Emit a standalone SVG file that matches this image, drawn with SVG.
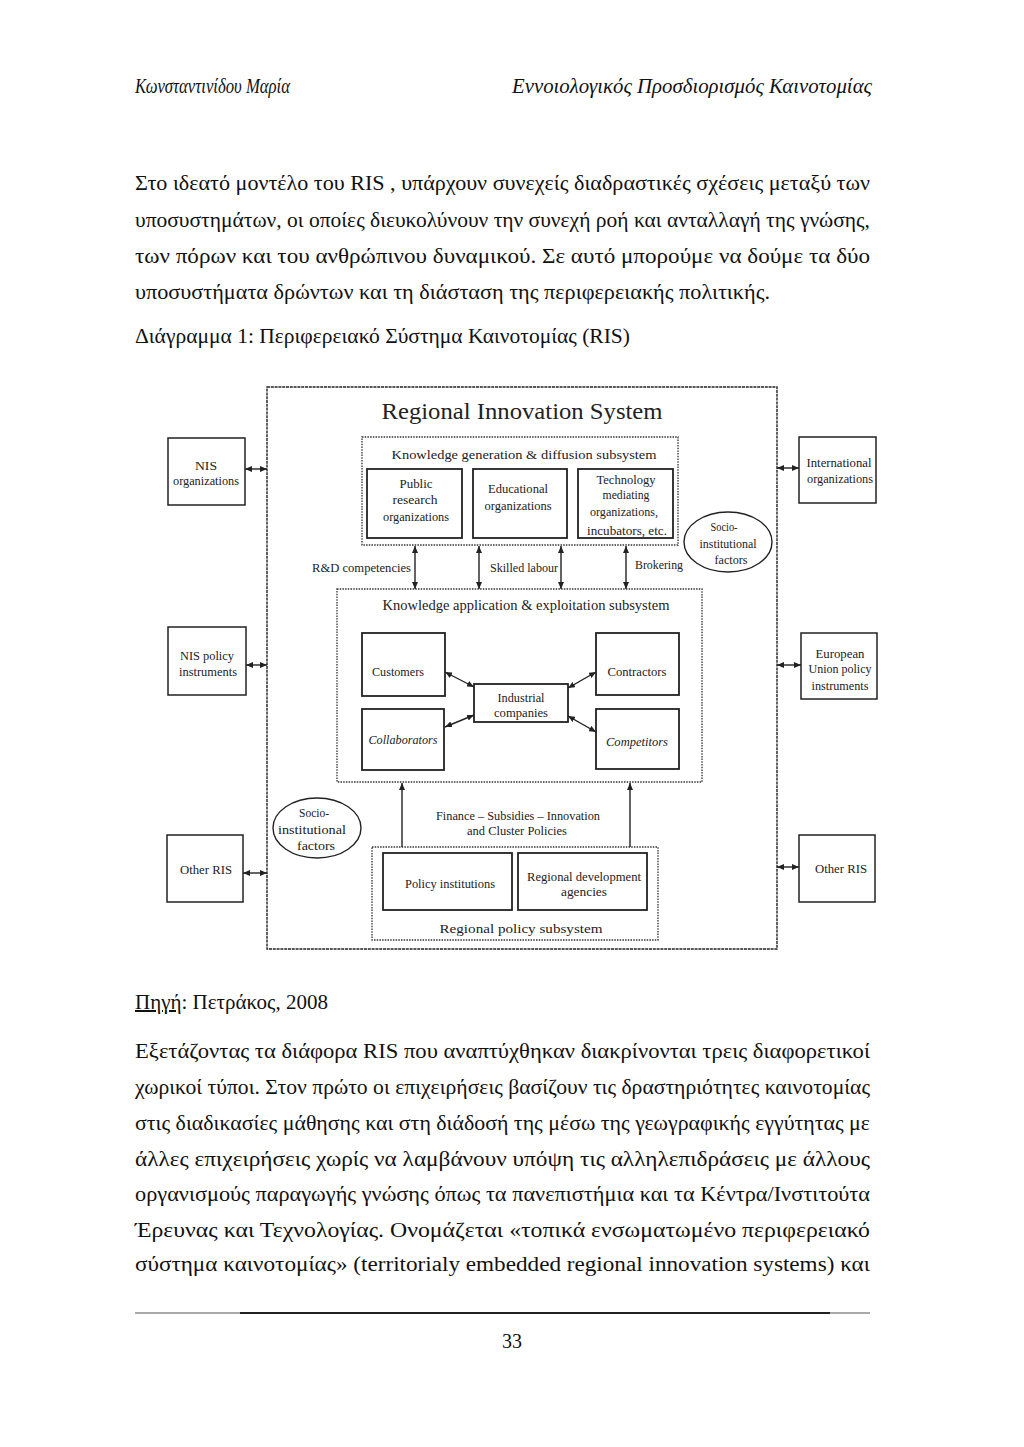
<svg xmlns="http://www.w3.org/2000/svg" width="1024" height="1447" viewBox="0 0 1024 1447">
<style>
.pg{font-family:"Liberation Serif","Times New Roman",serif;font-size:20px;fill:#111}
.hd{font-family:"Liberation Serif","Times New Roman",serif;font-size:20px;font-style:italic;fill:#111}
.t{font-family:"Liberation Serif","Times New Roman",serif;font-size:11.5px;fill:#222;text-anchor:middle}
.ti{font-style:italic}
.sub{font-family:"Liberation Serif","Times New Roman",serif;fill:#222;text-anchor:middle}
.dot{fill:none;stroke:#333;stroke-width:1.3;stroke-dasharray:1.5 1.2}
.box{fill:none;stroke:#222;stroke-width:1.8}
.ext{fill:none;stroke:#222;stroke-width:1.5}
.ell{fill:none;stroke:#222;stroke-width:1.4}
.c{stroke:#222;stroke-width:1.4;fill:none}
</style>
<defs>
<marker id="ah" viewBox="0 0 7 6" refX="7" refY="3" markerWidth="7" markerHeight="6" markerUnits="userSpaceOnUse" orient="auto-start-reverse">
<path d="M0,0 L7,3 L0,6 z" fill="#222"/>
</marker>
</defs>
<rect width="1024" height="1447" fill="#fff"/>

<g id="page-text">
<text class="hd" x="135" y="93" textLength="155" lengthAdjust="spacingAndGlyphs">Κωνσταντινίδου Μαρία</text>
<text class="hd" x="872" y="93" text-anchor="end" textLength="360" lengthAdjust="spacingAndGlyphs">Εννοιολογικός Προσδιορισμός Καινοτομίας</text>
<text class="pg" x="135" y="190" textLength="735" lengthAdjust="spacingAndGlyphs">Στο ιδεατό μοντέλο του RIS , υπάρχουν συνεχείς διαδραστικές σχέσεις μεταξύ των</text>
<text class="pg" x="135" y="227" textLength="735" lengthAdjust="spacingAndGlyphs">υποσυστημάτων, οι οποίες διευκολύνουν την συνεχή ροή και ανταλλαγή της γνώσης,</text>
<text class="pg" x="135" y="263" textLength="735" lengthAdjust="spacingAndGlyphs">των πόρων και του ανθρώπινου δυναμικού. Σε αυτό μπορούμε να δούμε τα δύο</text>
<text class="pg" x="135" y="299" textLength="635" lengthAdjust="spacingAndGlyphs">υποσυστήματα δρώντων και τη διάσταση της περιφερειακής πολιτικής.</text>
<text class="pg" x="135" y="343" textLength="495" lengthAdjust="spacingAndGlyphs">Διάγραμμα 1: Περιφερειακό Σύστημα Καινοτομίας (RIS)</text>
<text class="pg" x="135" y="1009" textLength="193" lengthAdjust="spacingAndGlyphs"><tspan text-decoration="underline">Πηγή</tspan>: Πετράκος, 2008</text>
<text class="pg" x="135" y="1058" textLength="735" lengthAdjust="spacingAndGlyphs">Εξετάζοντας τα διάφορα RIS που αναπτύχθηκαν διακρίνονται τρεις διαφορετικοί</text>
<text class="pg" x="135" y="1094" textLength="735" lengthAdjust="spacingAndGlyphs">χωρικοί τύποι. Στον πρώτο οι επιχειρήσεις βασίζουν τις δραστηριότητες καινοτομίας</text>
<text class="pg" x="135" y="1130" textLength="735" lengthAdjust="spacingAndGlyphs">στις διαδικασίες μάθησης και στη  διάδοσή της μέσω της γεωγραφικής εγγύτητας με</text>
<text class="pg" x="135" y="1166" textLength="735" lengthAdjust="spacingAndGlyphs">άλλες επιχειρήσεις χωρίς να λαμβάνουν υπόψη τις αλληλεπιδράσεις με άλλους</text>
<text class="pg" x="135" y="1201" textLength="735" lengthAdjust="spacingAndGlyphs">οργανισμούς παραγωγής γνώσης όπως τα πανεπιστήμια και τα Κέντρα/Ινστιτούτα</text>
<text class="pg" x="135" y="1237" textLength="735" lengthAdjust="spacingAndGlyphs">Έρευνας και Τεχνολογίας. Ονομάζεται «τοπικά ενσωματωμένο περιφερειακό</text>
<text class="pg" x="135" y="1271" textLength="735" lengthAdjust="spacingAndGlyphs">σύστημα καινοτομίας» (territorialy embedded regional innovation systems) και</text>
<line x1="135" y1="1313" x2="870" y2="1313" stroke="#555" stroke-width="1.2"/>
<line x1="240" y1="1313" x2="830" y2="1313" stroke="#222" stroke-width="1.8"/>
<text class="pg" x="512" y="1348" text-anchor="middle">33</text>
</g>

<g id="ris-system">
<rect x="267" y="387" width="510" height="562" fill="none" stroke="#222" stroke-width="1.4" stroke-dasharray="3 0.8"/>
<text class="sub" x="522" y="419" font-size="23" textLength="281" lengthAdjust="spacingAndGlyphs">Regional Innovation System</text>
</g>

<g id="knowledge-generation-subsystem">
<rect class="dot" x="362" y="437" width="316" height="108"/>
<text class="sub" x="524" y="459" font-size="12.5" textLength="265" lengthAdjust="spacingAndGlyphs">Knowledge generation &amp; diffusion subsystem</text>
</g>
<g id="public-research">
<rect class="box" x="367" y="469" width="95" height="69"/>
<text class="t" x="416" y="488" textLength="33" lengthAdjust="spacingAndGlyphs">Public</text>
<text class="t" x="415" y="504" textLength="45" lengthAdjust="spacingAndGlyphs">research</text>
<text class="t" x="416" y="521" textLength="66" lengthAdjust="spacingAndGlyphs">organizations</text>
</g>
<g id="educational">
<rect class="box" x="473" y="469" width="94" height="69"/>
<text class="t" x="518" y="493" textLength="60" lengthAdjust="spacingAndGlyphs">Educational</text>
<text class="t" x="518" y="510" textLength="67" lengthAdjust="spacingAndGlyphs">organizations</text>
</g>
<g id="technology-mediating">
<rect class="box" x="578" y="469" width="95" height="69"/>
<text class="t" x="626" y="484" textLength="59" lengthAdjust="spacingAndGlyphs">Technology</text>
<text class="t" x="626" y="499" textLength="47" lengthAdjust="spacingAndGlyphs">mediating</text>
<text class="t" x="624" y="516" textLength="68" lengthAdjust="spacingAndGlyphs">organizations,</text>
<text class="t" x="627" y="535" textLength="80" lengthAdjust="spacingAndGlyphs">incubators, etc.</text>
</g>
<g id="socio-institutional-top">
<ellipse class="ell" cx="728" cy="542" rx="44" ry="30"/>
<text class="t" x="724" y="531" textLength="27" lengthAdjust="spacingAndGlyphs">Socio-</text>
<text class="t" x="728" y="548" textLength="57" lengthAdjust="spacingAndGlyphs">institutional</text>
<text class="t" x="731" y="564" textLength="33" lengthAdjust="spacingAndGlyphs">factors</text>
</g>

<g id="knowledge-application-subsystem">
<rect class="dot" x="337" y="589" width="365" height="193"/>
<text class="sub" x="526" y="610" font-size="14" textLength="287" lengthAdjust="spacingAndGlyphs">Knowledge application &amp; exploitation subsystem</text>
</g>
<g id="customers">
<rect class="box" x="362" y="633" width="83" height="63"/>
<text class="t" x="398" y="676" textLength="52" lengthAdjust="spacingAndGlyphs">Customers</text>
</g>
<g id="collaborators">
<rect class="box" x="362" y="709" width="82" height="61"/>
<text class="t ti" x="403" y="744" textLength="69" lengthAdjust="spacingAndGlyphs">Collaborators</text>
</g>
<g id="industrial-companies">
<rect class="box" x="474" y="684" width="94" height="38"/>
<text class="t" x="521" y="702" textLength="47" lengthAdjust="spacingAndGlyphs">Industrial</text>
<text class="t" x="521" y="717" textLength="54" lengthAdjust="spacingAndGlyphs">companies</text>
</g>
<g id="contractors">
<rect class="box" x="596" y="633" width="83" height="62"/>
<text class="t" x="637" y="676" textLength="59" lengthAdjust="spacingAndGlyphs">Contractors</text>
</g>
<g id="competitors">
<rect class="box" x="596" y="709" width="83" height="60"/>
<text class="t ti" x="637" y="746" textLength="62" lengthAdjust="spacingAndGlyphs">Competitors</text>
</g>

<g id="regional-policy-subsystem">
<rect class="dot" x="372" y="847" width="286" height="93"/>
<text class="sub" x="521" y="933" font-size="13" textLength="163" lengthAdjust="spacingAndGlyphs">Regional policy subsystem</text>
</g>
<g id="policy-institutions">
<rect class="box" x="383" y="853" width="129" height="57"/>
<text class="t" x="450" y="888" textLength="90" lengthAdjust="spacingAndGlyphs">Policy institutions</text>
</g>
<g id="regional-development-agencies">
<rect class="box" x="518" y="853" width="129" height="57"/>
<text class="t" x="584" y="881" textLength="114" lengthAdjust="spacingAndGlyphs">Regional development</text>
<text class="t" x="584" y="896" textLength="46" lengthAdjust="spacingAndGlyphs">agencies</text>
</g>
<g id="socio-institutional-bottom">
<ellipse class="ell" cx="317" cy="828" rx="44" ry="30"/>
<text class="t" x="314" y="817" textLength="30" lengthAdjust="spacingAndGlyphs">Socio-</text>
<text class="t" x="312" y="834" textLength="68" lengthAdjust="spacingAndGlyphs">institutional</text>
<text class="t" x="316" y="850" textLength="38" lengthAdjust="spacingAndGlyphs">factors</text>
</g>

<g id="nis-organizations">
<rect class="ext" x="168" y="438" width="77" height="67"/>
<text class="t" x="206" y="470" textLength="22" lengthAdjust="spacingAndGlyphs">NIS</text>
<text class="t" x="206" y="485" textLength="66" lengthAdjust="spacingAndGlyphs">organizations</text>
</g>
<g id="nis-policy-instruments">
<rect class="ext" x="168" y="627" width="78" height="68"/>
<text class="t" x="207" y="660" textLength="54" lengthAdjust="spacingAndGlyphs">NIS policy</text>
<text class="t" x="208" y="676" textLength="58" lengthAdjust="spacingAndGlyphs">instruments</text>
</g>
<g id="other-ris-left">
<rect class="ext" x="167" y="835" width="76" height="67"/>
<text class="t" x="206" y="874" textLength="52" lengthAdjust="spacingAndGlyphs">Other RIS</text>
</g>
<g id="international-organizations">
<rect class="ext" x="799" y="437" width="77" height="66"/>
<text class="t" x="839" y="467" textLength="65" lengthAdjust="spacingAndGlyphs">International</text>
<text class="t" x="840" y="483" textLength="66" lengthAdjust="spacingAndGlyphs">organizations</text>
</g>
<g id="eu-policy-instruments">
<rect class="ext" x="801" y="633" width="76" height="66"/>
<text class="t" x="840" y="658" textLength="49" lengthAdjust="spacingAndGlyphs">European</text>
<text class="t" x="840" y="673" textLength="63" lengthAdjust="spacingAndGlyphs">Union policy</text>
<text class="t" x="840" y="690" textLength="57" lengthAdjust="spacingAndGlyphs">instruments</text>
</g>
<g id="other-ris-right">
<rect class="ext" x="799" y="835" width="76" height="67"/>
<text class="t" x="841" y="873" textLength="52" lengthAdjust="spacingAndGlyphs">Other RIS</text>
</g>

<g id="connectors">
<line class="c" x1="245" y1="469" x2="267" y2="469" marker-start="url(#ah)" marker-end="url(#ah)"/>
<line class="c" x1="246" y1="665" x2="267" y2="665" marker-start="url(#ah)" marker-end="url(#ah)"/>
<line class="c" x1="243" y1="873" x2="267" y2="873" marker-start="url(#ah)" marker-end="url(#ah)"/>
<line class="c" x1="777" y1="468" x2="799" y2="468" marker-start="url(#ah)" marker-end="url(#ah)"/>
<line class="c" x1="777" y1="665" x2="801" y2="665" marker-start="url(#ah)" marker-end="url(#ah)"/>
<line class="c" x1="777" y1="867" x2="799" y2="867" marker-start="url(#ah)" marker-end="url(#ah)"/>
<line class="c" x1="415" y1="546" x2="415" y2="589" marker-start="url(#ah)" marker-end="url(#ah)"/>
<line class="c" x1="479" y1="546" x2="479" y2="589" marker-start="url(#ah)" marker-end="url(#ah)"/>
<line class="c" x1="561" y1="546" x2="561" y2="589" marker-start="url(#ah)" marker-end="url(#ah)"/>
<line class="c" x1="626" y1="546" x2="626" y2="589" marker-start="url(#ah)" marker-end="url(#ah)"/>
<line class="c" x1="402" y1="847" x2="402" y2="783" marker-end="url(#ah)"/>
<line class="c" x1="630" y1="847" x2="630" y2="783" marker-end="url(#ah)"/>
<line class="c" x1="445" y1="672" x2="474" y2="687" marker-start="url(#ah)" marker-end="url(#ah)"/>
<line class="c" x1="445" y1="727" x2="474" y2="715" marker-start="url(#ah)" marker-end="url(#ah)"/>
<line class="c" x1="596" y1="672" x2="568" y2="688" marker-start="url(#ah)" marker-end="url(#ah)"/>
<line class="c" x1="596" y1="732" x2="568" y2="716" marker-start="url(#ah)" marker-end="url(#ah)"/>
<text class="t" x="411" y="572" style="text-anchor:end" textLength="99" lengthAdjust="spacingAndGlyphs">R&amp;D competencies</text>
<text class="t" x="524" y="572" textLength="68" lengthAdjust="spacingAndGlyphs">Skilled labour</text>
<text class="t" x="659" y="569" textLength="48" lengthAdjust="spacingAndGlyphs">Brokering</text>
<text class="t" x="518" y="820" textLength="164" lengthAdjust="spacingAndGlyphs">Finance – Subsidies – Innovation</text>
<text class="t" x="517" y="835" textLength="100" lengthAdjust="spacingAndGlyphs">and Cluster Policies</text>
</g>
</svg>
